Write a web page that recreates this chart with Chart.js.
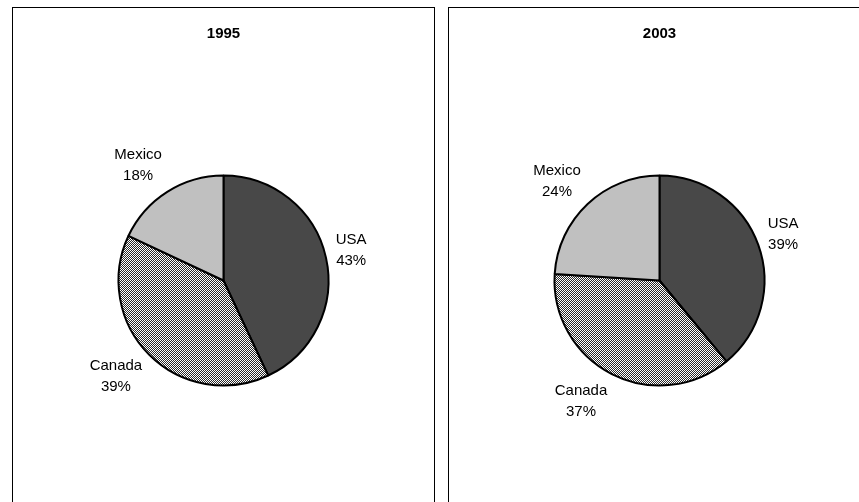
<!DOCTYPE html>
<html>
<head>
<meta charset="utf-8">
<script src="https://cdn.jsdelivr.net/npm/chart.js@4"></script>
<style>
  body { margin:0; background:#fff; width:859px; height:502px; overflow:hidden; position:relative; }
  .panel { position:absolute; top:7px; width:421px; height:520px; border:1px solid #000; background:#fff; }
  .panel canvas { display:block; }
</style>
</head>
<body>
<div class="panel" style="left:12px"><canvas id="c1995" width="421" height="495"></canvas></div>
<div class="panel" style="left:448px"><canvas id="c2003" width="421" height="495"></canvas></div>
<script>
// dados
const categories = ['USA', 'Canada', 'Mexico'];
const years = ['1995', '2003'];
const share1995 = [43, 39, 18];
const share2003 = [39, 37, 24];

const FONT = "'Liberation Sans', Arial, sans-serif";

// padrão quadriculado fino para Canada
function checker() {
  const c = document.createElement('canvas');
  c.width = 2; c.height = 2;
  const g = c.getContext('2d');
  g.fillStyle = '#fff'; g.fillRect(0, 0, 2, 2);
  g.fillStyle = '#2a2a2a'; g.fillRect(0, 0, 1, 1); g.fillRect(1, 1, 1, 1);
  return g.createPattern(c, 'repeat');
}

// rótulos "Nome\nxx%" fora da pizza
const outsideLabels = {
  id: 'outsideLabels',
  afterDatasetsDraw(chart) {
    const ctx = chart.ctx;
    const meta = chart.getDatasetMeta(0);
    const vals = chart.data.datasets[0].data;
    const lh = 21, gap = 10;
    ctx.save();
    ctx.font = '15px ' + FONT;
    ctx.fillStyle = '#000';
    ctx.textAlign = 'center';
    ctx.textBaseline = 'middle';
    meta.data.forEach((arc, i) => {
      const p = arc.getProps(['x', 'y', 'startAngle', 'endAngle', 'outerRadius'], true);
      const mid = (p.startAngle + p.endAngle) / 2;
      const cx = Math.cos(mid), cy = Math.sin(mid);
      const lines = [chart.data.labels[i], vals[i] + '%'];
      const w = Math.max(...lines.map(t => ctx.measureText(t).width));
      const h = lines.length * lh;
      const r = p.outerRadius + gap;
      const x = p.x + cx * r + Math.sign(cx) * w / 2;
      const y = p.y + cy * r + cy * h / 2;
      lines.forEach((t, k) => ctx.fillText(t, x, y - h / 2 + lh / 2 + k * lh));
    });
    ctx.restore();
  }
};

function makePie(id, year, data) {
  return new Chart(document.getElementById(id), {
    type: 'pie',
    data: {
      labels: categories,
      datasets: [{
        data,
        backgroundColor: ['#484848', checker(), '#c0c0c0'],
        borderColor: '#000',
        borderWidth: 2,
        radius: 105
      }]
    },
    options: {
      responsive: false,
      animation: false,
      events: [],
      layout: { padding: { top: 0, bottom: 3, left: 0, right: 0 } },
      plugins: {
        legend: { display: false },
        tooltip: { enabled: false },
        title: {
          display: true, text: year, color: '#000',
          font: { family: FONT, size: 15, weight: 'bold' },
          padding: { top: 17, bottom: 18 }
        }
      }
    },
    plugins: [outsideLabels]
  });
}

makePie('c1995', years[0], share1995);
makePie('c2003', years[1], share2003);
</script>
</body>
</html>
